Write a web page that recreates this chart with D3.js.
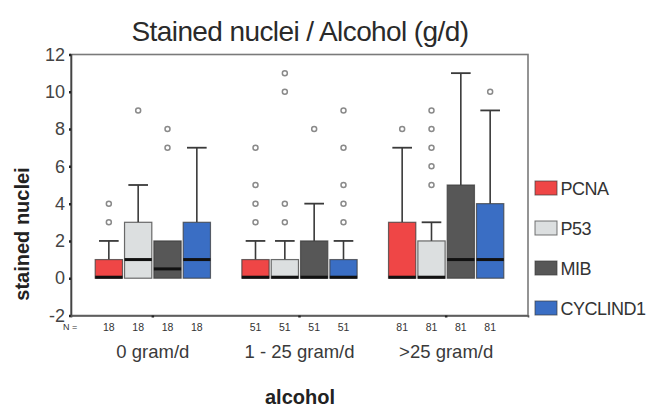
<!DOCTYPE html>
<html>
<head>
<meta charset="utf-8">
<script src="https://cdn.jsdelivr.net/npm/d3@7/dist/d3.min.js"></script>
<style>
  html, body { margin: 0; padding: 0; background: #ffffff; }
  svg { display: block; font-family: "Liberation Sans", Arial, sans-serif; }
</style>
</head>
<body>
<svg id="chart" width="647" height="407"></svg>
<script>
// Alcohol intake groups and marker series
const groups = ["0 gram/d", "1 - 25 gram/d", ">25 gram/d"];
const series = ["PCNA", "P53", "MIB", "CYCLIND1"];
const counts = [18, 51, 81];
const yTicks = [-2, 0, 2, 4, 6, 8, 10, 12];

// Box statistics per group: [lower whisker, Q1, median, Q3, upper whisker]
const pcnaStats = [[0, 0, 0, 1, 2], [0, 0, 0, 1, 2], [0, 0, 0, 3, 7]];
const p53Stats = [[0, 0, 1, 3, 5], [0, 0, 0, 1, 2], [0, 0, 0, 2, 3]];
const mibStats = [[0, 0, 0.5, 2, 2], [0, 0, 0, 2, 4], [0, 0, 1, 5, 11]];
const cyclinStats = [[0, 0, 1, 3, 7], [0, 0, 0, 1, 2], [0, 0, 1, 4, 9]];

// Outlying cases per group
const pcnaOut = [[3, 4], [3, 4, 5, 7], [8]];
const p53Out = [[9], [3, 4, 10, 11], [5, 6, 7, 8, 9]];
const mibOut = [[7, 8], [8], []];
const cyclinOut = [[], [3, 4, 5, 7, 9], [10]];

const colors = ["#ef4646", "#dcdfe0", "#575757", "#3a6ec4"];

const statsBySeries = [pcnaStats, p53Stats, mibStats, cyclinStats];
const outBySeries = [pcnaOut, p53Out, mibOut, cyclinOut];

const boxes = [];
groups.forEach((g, gi) => {
  series.forEach((s, si) => {
    const st = statsBySeries[si][gi];
    boxes.push({
      group: g, series: s, n: counts[gi],
      lo: st[0], q1: st[1], med: st[2], q3: st[3], hi: st[4],
      outliers: outBySeries[si][gi]
    });
  });
});

const svg = d3.select("#chart");
const plotLeft = 71, plotRight = 528, plotTop = 54.5, plotBottom = 315.5;

const y = d3.scaleLinear().domain([-2, 12]).range([plotBottom, plotTop]);
const xGroup = d3.scaleBand().domain(groups).range([plotLeft, plotRight])
  .paddingInner(0).paddingOuter(0.058);
const xSeries = d3.scaleBand().domain(series).range([0, xGroup.bandwidth()])
  .paddingInner(0.07).paddingOuter(0.535);
const color = d3.scaleOrdinal().domain(series).range(colors);

// Title
svg.append("text")
  .attr("x", 300).attr("y", 41)
  .attr("text-anchor", "middle")
  .attr("font-size", 28).attr("letter-spacing", -0.6)
  .attr("fill", "#2a2a2a")
  .text("Stained nuclei / Alcohol (g/d)");

// Plot frame
svg.append("rect")
  .attr("x", plotLeft).attr("y", plotTop)
  .attr("width", plotRight - plotLeft).attr("height", plotBottom - plotTop)
  .attr("fill", "none").attr("stroke", "#7a7a7a").attr("stroke-width", 1.6);

// Y axis
const yAxis = svg.append("g")
  .attr("transform", `translate(${plotLeft},0)`)
  .call(d3.axisLeft(y).tickValues(yTicks).tickSize(2).tickPadding(4).tickFormat(d => String(d)));
yAxis.select(".domain").attr("stroke", "#444").attr("stroke-width", 1.6);
yAxis.selectAll(".tick line").attr("stroke", "#222").attr("stroke-width", 2.5);
yAxis.selectAll(".tick text")
  .attr("font-size", 18).attr("fill", "#444")
  .attr("font-family", "'Liberation Sans', Arial, sans-serif");

// X axis with group labels
const xAxis = svg.append("g")
  .attr("transform", `translate(0,${plotBottom})`)
  .call(d3.axisBottom(xGroup).tickSize(2).tickPadding(27));
xAxis.select(".domain").attr("stroke", "#555").attr("stroke-width", 1.6);
xAxis.selectAll(".tick line").attr("stroke", "#222").attr("stroke-width", 2.5);
xAxis.selectAll(".tick text")
  .attr("font-size", 18.5).attr("fill", "#3a3a3a")
  .attr("font-family", "'Liberation Sans', Arial, sans-serif");

// Case counts under each box
svg.append("text")
  .attr("x", 63).attr("y", 330)
  .attr("font-size", 9).attr("fill", "#333")
  .text("N =");

const boxX = d => xGroup(d.group) + xSeries(d.series);
const bw = xSeries.bandwidth();

svg.append("g").selectAll("text")
  .data(boxes).join("text")
  .attr("x", d => boxX(d) + bw / 2).attr("y", 331)
  .attr("text-anchor", "middle")
  .attr("font-size", 10.5).attr("fill", "#333")
  .text(d => d.n);

// Boxes
const bx = svg.append("g").selectAll("g")
  .data(boxes).join("g");

// Whiskers
const capW = bw * 0.72;
bx.filter(d => d.hi > d.q3).append("line")
  .attr("x1", d => boxX(d) + bw / 2).attr("x2", d => boxX(d) + bw / 2)
  .attr("y1", d => y(d.q3)).attr("y2", d => y(d.hi))
  .attr("stroke", "#3a3a3a").attr("stroke-width", 1.6);
bx.filter(d => d.hi > d.q3).append("line")
  .attr("x1", d => boxX(d) + (bw - capW) / 2).attr("x2", d => boxX(d) + (bw + capW) / 2)
  .attr("y1", d => y(d.hi)).attr("y2", d => y(d.hi))
  .attr("stroke", "#3a3a3a").attr("stroke-width", 1.8);
bx.filter(d => d.lo < d.q1).append("line")
  .attr("x1", d => boxX(d) + bw / 2).attr("x2", d => boxX(d) + bw / 2)
  .attr("y1", d => y(d.q1)).attr("y2", d => y(d.lo))
  .attr("stroke", "#3a3a3a").attr("stroke-width", 1.6);

bx.append("rect")
  .attr("x", d => boxX(d)).attr("width", bw)
  .attr("y", d => y(d.q3)).attr("height", d => y(d.q1) - y(d.q3))
  .attr("fill", d => color(d.series))
  .attr("stroke", "#3c3c3c").attr("stroke-width", 1.2).attr("stroke-opacity", 0.75);

// Medians
bx.append("line")
  .attr("x1", d => boxX(d)).attr("x2", d => boxX(d) + bw)
  .attr("y1", d => y(d.med) - (d.med === d.q1 ? 1 : 0))
  .attr("y2", d => y(d.med) - (d.med === d.q1 ? 1 : 0))
  .attr("stroke", "#111").attr("stroke-width", 3);

// Outliers
bx.selectAll("circle")
  .data(d => d.outliers.map(v => ({ v, d })))
  .join("circle")
  .attr("cx", o => boxX(o.d) + bw / 2)
  .attr("cy", o => y(o.v))
  .attr("r", 2.5)
  .attr("fill", "#fff").attr("stroke", "#8a8a8a").attr("stroke-width", 1.5);

// Legend
const legend = svg.append("g").selectAll("g")
  .data(series).join("g")
  .attr("transform", (d, i) => `translate(535,${188 + i * 40})`);
legend.append("rect")
  .attr("x", 0).attr("y", -7).attr("width", 22).attr("height", 14)
  .attr("fill", d => color(d))
  .attr("stroke", "#3c3c3c").attr("stroke-width", 1).attr("stroke-opacity", 0.7);
legend.append("text")
  .attr("x", 25.5).attr("y", 6.5)
  .attr("font-size", 18).attr("letter-spacing", -0.5).attr("fill", "#333")
  .text(d => d);

// Axis titles
svg.append("text")
  .attr("transform", "translate(29,234) rotate(-90)")
  .attr("text-anchor", "middle")
  .attr("font-size", 20).attr("font-weight", "bold").attr("fill", "#222")
  .text("stained nuclei");

svg.append("text")
  .attr("x", 300).attr("y", 404)
  .attr("text-anchor", "middle")
  .attr("font-size", 20).attr("font-weight", "bold").attr("fill", "#222")
  .text("alcohol");
</script>
</body>
</html>
